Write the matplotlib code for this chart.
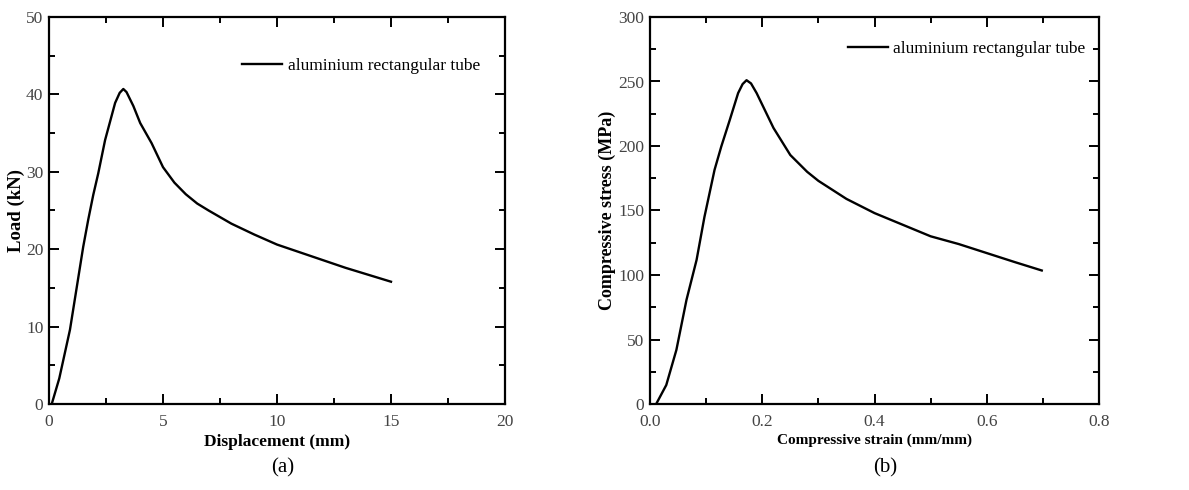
import numpy as np
import matplotlib
matplotlib.use('Agg')
from matplotlib import pyplot as plt
from matplotlib.ticker import AutoMinorLocator

plt.rcParams['font.family'] = ['Liberation Serif', 'DejaVu Serif']

# (a) load - displacement
disp = [0.12, 0.45, 0.92, 1.5, 1.72, 1.94, 2.16, 2.46, 2.9, 3.1, 3.26, 3.4, 3.7, 4.0,
        4.5, 5.0, 5.5, 6.0, 6.5, 7.0, 8.0, 9.0, 10.0, 11.0, 12.0, 13.0, 14.0, 15.0]
load = [0.0, 3.3, 9.6, 20.3, 23.8, 27.0, 29.8, 34.1, 38.9, 40.2, 40.7, 40.3, 38.5, 36.3,
        33.7, 30.6, 28.6, 27.1, 25.9, 25.0, 23.3, 21.9, 20.6, 19.6, 18.6, 17.6, 16.7, 15.8]

# (b) stress - strain
strain = [0.011, 0.029, 0.047, 0.065, 0.083, 0.097, 0.115, 0.127, 0.142, 0.157, 0.165,
          0.172, 0.18, 0.19, 0.2, 0.22, 0.25, 0.28, 0.3, 0.35, 0.4, 0.45, 0.5, 0.55,
          0.6, 0.65, 0.698]
stress = [0.0, 14.7, 41.9, 80.7, 111.7, 145.0, 181.5, 199.6, 220.0, 241.0, 248.0,
          251.0, 248.5, 241.0, 232.0, 214.0, 193.0, 180.0, 173.0, 159.0, 148.0, 139.0,
          130.0, 124.0, 117.0, 110.0, 103.5]

fig = plt.figure(figsize=(11.89, 4.9), dpi=100)
ax1 = fig.add_axes([49/1189, 86/490, 456/1189, 387/490])
ax2 = fig.add_axes([650/1189, 86/490, 449/1189, 387/490])


def style(ax, anchor):
    for s in ax.spines.values():
        s.set_linewidth(1.6)
    ax.xaxis.set_minor_locator(AutoMinorLocator(2))
    ax.yaxis.set_minor_locator(AutoMinorLocator(2))
    ax.tick_params(which='both', direction='in', top=True, right=True,
                   labelsize=12.5, labelcolor='#444444', width=1.4)
    ax.tick_params(axis='y', pad=4)
    ax.tick_params(axis='x', pad=7)
    ax.tick_params(which='major', length=7)
    ax.tick_params(which='minor', length=4)
    ax.legend(loc='center right', bbox_to_anchor=anchor, frameon=False, fontsize=12.5,
              handlelength=2.3, handletextpad=0.3, borderaxespad=0)


ax1.plot(disp, load, color='black', lw=1.7, label='aluminium rectangular tube')
ax1.set_xlim(0, 20)
ax1.set_ylim(0, 50)
ax1.set_xticks([0, 5, 10, 15, 20])
ax1.set_yticks([0, 10, 20, 30, 40, 50])
ax1.set_xlabel('Displacement (mm)', fontsize=12.5, fontweight='bold', labelpad=3)
ax1.set_ylabel('Load (kN)', fontsize=13.5, fontweight='bold', labelpad=1)
style(ax1, (0.96, 1 - 49/387))

ax2.plot(strain, stress, color='black', lw=1.7, label='aluminium rectangular tube')
ax2.set_xlim(0, 0.8)
ax2.set_ylim(0, 300)
ax2.set_xticks([0.0, 0.2, 0.4, 0.6, 0.8])
ax2.set_xticklabels(['0.0', '0.2', '0.4', '0.6', '0.8'])
ax2.set_yticks([0, 50, 100, 150, 200, 250, 300])
ax2.set_xlabel('Compressive strain (mm/mm)', fontsize=11, fontweight='bold', labelpad=3)
ax2.set_ylabel('Compressive stress (MPa)', fontsize=13, fontweight='bold', labelpad=2)
style(ax2, (0.985, 1 - 32/387))

fig.text(283/1189, 1 - 468/490, '(a)', fontsize=15, ha='center', va='center')
fig.text(885/1189, 1 - 468/490, '(b)', fontsize=15, ha='center', va='center')

fig.savefig('out.png', dpi=100)
